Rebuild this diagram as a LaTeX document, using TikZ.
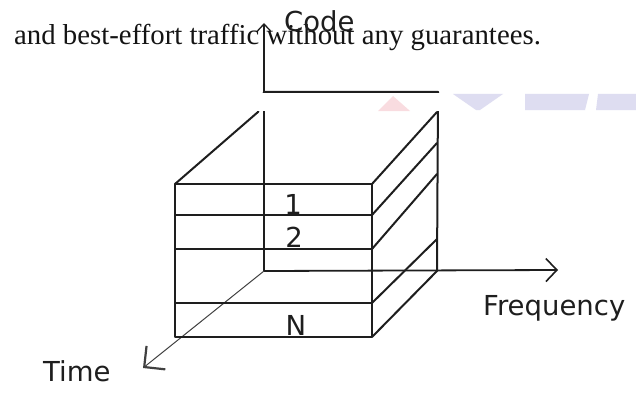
\documentclass[tikz,border=0pt]{standalone}
\usepackage{fontspec}
\usepackage{graphicx}
\setmainfont{Liberation Serif}
\newfontfamily\lblfont{DejaVu Sans}
\usetikzlibrary{arrows.meta}
\definecolor{inkc}{HTML}{1E1E1E}
\definecolor{wmpink}{HTML}{F9DCE0}
\definecolor{wmblue}{HTML}{DEDDF1}
\tikzset{
  boxline/.style={line width=2pt, draw=inkc, line cap=round, line join=round},
  axisline/.style={line width=1.8pt, draw=inkc},
  timeline/.style={line width=1pt, draw=inkc!85},
  lbl/.style={font=\lblfont\fontsize{27.5}{30}\selectfont, inner sep=0pt, text=inkc},
  serif/.style={font=\fontsize{28.8}{32}\selectfont, inner sep=0pt, text=black!92},
}
\begin{document}
\begin{tikzpicture}[x=1pt,y=-1pt]
\useasboundingbox (0,0) rectangle (636,401);
% running text line
\node[serif, anchor=base west] (txt) at (14,45) {and best-effort traffic without any guarantees.};

% coordinates
\coordinate (O) at (264,271);
\coordinate (codetip) at (264,23);
\coordinate (freqtip) at (558,270);
\coordinate (timetip) at (143,368);
% front face
\coordinate (F1) at (175,184); \coordinate (G1) at (372,184);
\coordinate (F2) at (175,215); \coordinate (G2) at (372,215);
\coordinate (F3) at (175,249); \coordinate (G3) at (372,249);
\coordinate (F4) at (175,303); \coordinate (G4) at (372,303);
\coordinate (F5) at (175,337); \coordinate (G5) at (372,337);
% back
\coordinate (BTL) at (264,92); \coordinate (BTR) at (438,92);
\coordinate (BBR) at (437,271);
\coordinate (R1) at (437,112); \coordinate (R2) at (437,143);
\coordinate (R3) at (437,174); \coordinate (R4) at (437,239);
\coordinate (R5) at (437,271);
\coordinate (LD) at (258,112);

% axes
\draw[axisline, -{Straight Barb[length=7pt,width=13pt,line width=1.3pt]}] (O) -- (codetip);
\draw[axisline, -{Straight Barb[length=11pt,width=23pt,line width=1.6pt]}] (O) -- (freqtip);
\draw[timeline, -{Straight Barb[length=15pt,width=30pt,line width=2.2pt]}] (O) -- (timetip);

% front face
\draw[boxline] (F1) -- (G1) -- (G5) -- (F5) -- cycle;
\draw[boxline] (F2) -- (G2);
\draw[boxline] (F3) -- (G3);
\draw[boxline] (F4) -- (G4);
% side diagonals
\draw[boxline] (F1) -- (LD) -- (BTL);
\draw[boxline] (G1) -- (R1);
\draw[boxline] (G2) -- (R2);
\draw[boxline] (G3) -- (R3);
\draw[boxline] (G4) -- (R4);
\draw[boxline] (G5) -- (R5);
% back edges
\draw[boxline] (BTL) -- (BTR) -- (BBR);

% white band with watermark
\fill[white] (254,93.5) rectangle (636,111);
\fill[wmpink] (378,111) -- (393,96) -- (410,111) -- cycle;
\fill[wmblue] (453,94) -- (503,94) -- (480,110) -- (476,110) -- cycle;
\fill[wmblue] (525,94) -- (589,94) -- (585,110) -- (525,110) -- cycle;
\fill[wmblue] (598,94) -- (636,94) -- (636,110) -- (596,110) -- cycle;

% labels
\node[lbl, anchor=base west] (code) at (284,32) {Code};
\node[lbl, anchor=base west] (freq) at (483,315) {Frequency};
\node[lbl, anchor=base west] (time) at (43,381) {Time};
\node[lbl, anchor=base] (one) at (293,214) {1};
\node[lbl, anchor=base] (two) at (294,247) {2};
\node[lbl, anchor=base] (enn) at (296,335) {N};
\end{tikzpicture}
\end{document}
